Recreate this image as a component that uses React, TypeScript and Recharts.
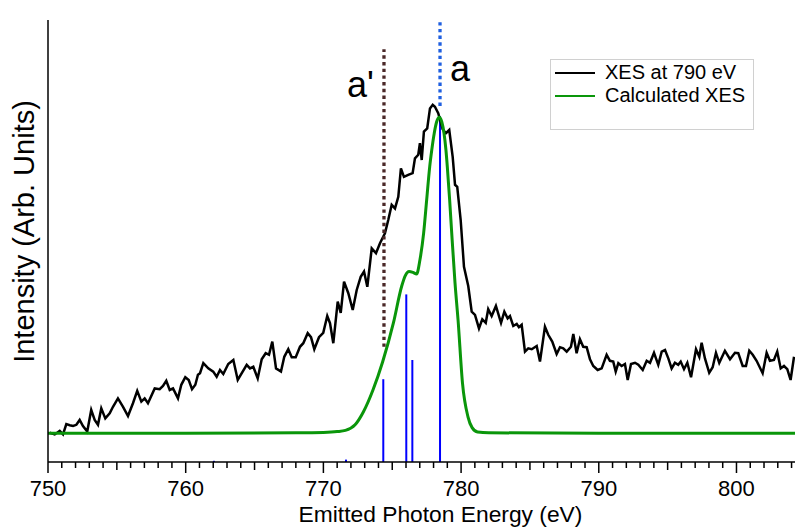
import React from "react";
import {
  ComposedChart,
  Line,
  XAxis,
  YAxis,
  ReferenceLine,
} from "recharts";

// measured XES at 790 eV excitation (energy in eV, intensity arb. units)
const xesEnergy = [
  750.12, 750.49, 750.85, 751.09, 751.33, 751.58, 751.82, 752.06, 752.3, 752.54,
  752.85, 753.14, 753.39, 753.63, 753.87, 754.16, 754.48, 754.72, 755.08, 755.45,
  755.81, 756.17, 756.48, 756.78, 757.02, 757.26, 757.75, 758.11, 758.35, 758.59,
  758.84, 759.08, 759.44, 759.68, 759.97, 760.22, 760.46, 760.7, 760.89, 761.04,
  761.28, 761.64, 762.0, 762.25, 762.49, 762.73, 763.09, 763.46, 763.78, 764.43,
  764.67, 764.91, 765.23, 765.52, 765.81, 766.05, 766.29, 766.56, 766.92, 767.16,
  767.45, 767.7, 767.99, 768.3, 768.54, 768.86, 769.1, 769.34, 769.68, 769.99,
  770.28, 770.48, 770.72, 771.04, 771.26, 771.5, 771.81, 772.13, 772.42, 772.71,
  772.95, 773.19, 773.51, 773.82, 774.11, 774.47, 774.71, 774.96, 775.2, 775.44,
  775.63, 775.85, 776.16, 776.48, 776.65, 776.89, 777.01, 777.14, 777.3, 777.54,
  777.74, 777.94, 778.1, 778.34, 778.66, 778.9, 779.14, 779.39, 779.56, 779.72,
  779.97, 780.21, 780.52, 780.77, 781.01, 781.3, 781.54, 781.79, 781.97, 782.22,
  782.53, 782.9, 783.14, 783.38, 783.55, 783.79, 784.04, 784.2, 784.4, 784.64,
  784.88, 785.13, 785.49, 785.73, 786.09, 786.33, 786.62, 786.94, 787.18, 787.42,
  787.67, 787.98, 788.15, 788.39, 788.63, 788.87, 789.12, 789.36, 789.6, 789.92,
  790.21, 790.57, 790.81, 791.05, 791.23, 791.42, 791.66, 791.9, 792.1, 792.34,
  792.63, 792.87, 793.19, 793.48, 793.72, 794.01, 794.32, 794.57, 794.81, 795.05,
  795.29, 795.53, 795.77, 795.95, 796.19, 796.43, 796.7, 797.06, 797.3, 797.47,
  797.71, 798.02, 798.27, 798.51, 798.75, 799.16, 799.53, 799.89, 800.13, 800.45,
  800.69, 800.93, 801.18, 801.46, 801.9, 802.19, 802.43, 802.72, 802.96, 803.21,
  803.45, 803.69, 803.93, 804.18,
];
const xesIntensity = [
  7.3, 6.9, 7.8, 6.9, 9.5, 9.2, 9.0, 9.3, 10.5, 9.0,
  7.6, 13.0, 10.5, 9.3, 13.4, 10.9, 12.2, 13.8, 15.9, 13.8,
  11.5, 14.7, 17.8, 15.1, 15.9, 14.7, 18.4, 18.2, 19.0, 20.3,
  18.0, 18.4, 15.9, 19.3, 21.2, 20.5, 18.2, 19.3, 21.8, 22.2,
  24.7, 23.4, 22.6, 21.3, 23.0, 22.0, 24.5, 25.5, 20.5, 24.3,
  23.4, 23.8, 20.9, 25.7, 27.2, 26.8, 30.1, 23.4, 22.6, 26.3,
  28.2, 26.2, 26.2, 28.8, 29.7, 32.2, 31.2, 28.2, 31.2, 32.3,
  36.5, 34.7, 29.7, 40.1, 37.3, 45.1, 42.2, 38.0, 43.0, 46.3,
  47.6, 43.8, 53.4, 52.2, 54.7, 57.2, 60.5, 64.3, 63.4, 66.3,
  73.4, 71.3, 71.8, 72.2, 75.9, 76.8, 79.7, 75.5, 82.6, 83.4,
  88.4, 89.3, 88.8, 87.2, 83.2, 82.2, 83.0, 76.3, 69.3, 68.8,
  60.5, 48.8, 44.0, 37.6, 36.8, 33.4, 35.7, 34.8, 38.2, 36.5,
  39.0, 34.8, 37.6, 35.9, 36.5, 34.0, 34.5, 33.7, 34.3, 27.6,
  28.4, 28.2, 29.0, 25.1, 33.8, 31.8, 30.1, 27.0, 28.7, 28.4,
  27.6, 28.8, 32.0, 27.2, 30.7, 28.8, 28.7, 25.7, 24.0, 23.0,
  23.4, 26.8, 25.3, 25.1, 22.6, 24.7, 24.0, 24.5, 20.5, 24.5,
  24.8, 24.3, 23.0, 25.3, 24.8, 27.3, 24.3, 27.6, 28.0, 25.9,
  23.4, 24.8, 24.3, 25.1, 23.2, 24.8, 21.2, 28.2, 26.3, 29.8,
  25.9, 22.3, 23.7, 27.3, 24.8, 27.8, 25.7, 27.3, 27.2, 24.0,
  24.0, 27.8, 26.8, 25.3, 22.2, 27.3, 25.3, 25.5, 27.6, 23.4,
  24.0, 23.2, 20.5, 26.3,
];

// calculated XES (broadened)
const calcEnergy = [
  750, 760, 768, 770, 771, 771.6, 772.3, 772.9, 773.6, 774.3,
  775.08, 775.69, 775.95, 776.22, 776.5, 776.77, 777.01, 777.28, 777.5, 777.72,
  777.87, 778.05, 778.22, 778.42, 778.6, 778.76, 778.9, 779.0, 779.17, 779.32,
  779.56, 779.78, 780.1, 780.5, 780.8, 781.2, 782, 790, 804.25,
];
const calcIntensity = [
  7.2, 7.2, 7.3, 7.4, 7.6, 7.9, 9.3, 12.5, 18.0, 25.0,
  34.7, 44.0, 46.6, 47.6, 47.4, 47.0, 50.5, 57.2, 65.5, 73.8,
  78.0, 82.2, 85.0, 86.2, 85.0, 82.2, 78.0, 73.8, 65.5, 57.2,
  44.7, 35.5, 19.8, 11.3, 8.6, 7.5, 7.3, 7.2, 7.2,
];

// calculated transition sticks
const stickEnergy = [762.05, 771.64, 774.35, 776.02, 776.46, 778.47];
const stickIntensity = [0.3, 0.6, 20.7, 41.9, 25.5, 86.5];

// peak markers
const markerName = ["a'", "a"];
const markerEnergy = [774.4, 778.47];
const markerFrom = [28.8, 89.0];
const markerTo = [103.2, 110.2];

const majorTicks = [750, 760, 770, 780, 790, 800];
const minorTicks = Array.from({ length: 55 }, (_, i) => 750 + i);

const FONT = "'Liberation Sans', Arial, sans-serif";

const xesData = xesEnergy.map((e, i) => ({ e, v: xesIntensity[i] }));
const calcData = calcEnergy.map((e, i) => ({ e, v: calcIntensity[i] }));
const stickData = stickEnergy.map((e, i) => [
  { e, v: 0 },
  { e, v: stickIntensity[i] },
]);

const EnergyTick = (props: any) => {
  const { x, y, payload } = props;
  const val = payload.value;
  const len = val % 10 === 0 ? 11 : val % 5 === 0 ? 8 : 6;
  return (
    <g>
      <line x1={x} x2={x} y1={y} y2={y + len} stroke="#000" strokeWidth={1.5} />
      {majorTicks.includes(val) && (
        <text x={x} y={y + 34} textAnchor="middle" fontSize={22} fontFamily={FONT} fill="#000">
          {val}
        </text>
      )}
    </g>
  );
};

const MarkerLabel = (props: any) => {
  const { viewBox, text, dx, dy } = props;
  if (!viewBox) return null;
  return (
    <text x={viewBox.x + dx} y={viewBox.y + dy} fontSize={36} fontFamily={FONT} fill="#000">
      {text}
    </text>
  );
};

const labelOffsets = [
  { dx: -37, dy: 48 },
  { dx: 10, dy: 60 },
];
const markerColors = ["#4a2828", "#1f5fe0"];

export default function App() {
  return (
    <div style={{ position: "absolute", left: 0, top: 0, width: 795, height: 528, background: "#fff" }}>
      <ComposedChart width={795} height={528} margin={{ top: 20, right: 0, left: 47, bottom: 26 }}>
        <XAxis
          dataKey="e"
          type="number"
          domain={[750, 804.25]}
          allowDataOverflow
          ticks={minorTicks}
          interval={0}
          tickSize={0}
          tickMargin={0}
          tickLine={false}
          tick={<EnergyTick />}
          axisLine={{ stroke: "#000", strokeWidth: 1.5 }}
          height={40}
        />
        <YAxis
          type="number"
          domain={[0, 110.5]}
          allowDataOverflow
          width={1}
          tick={false}
          tickLine={false}
          axisLine={{ stroke: "#000", strokeWidth: 1.5 }}
        />
        {stickData.map((d, i) => (
          <Line
            key={"s" + i}
            data={d}
            dataKey="v"
            type="linear"
            stroke="#0000ff"
            strokeWidth={2}
            dot={false}
            isAnimationActive={false}
          />
        ))}
        <Line
          data={xesData}
          dataKey="v"
          type="linear"
          stroke="#000"
          strokeWidth={2.5}
          dot={false}
          isAnimationActive={false}
        />
        <Line
          data={calcData}
          dataKey="v"
          type="monotone"
          stroke="#0a960a"
          strokeWidth={3}
          dot={false}
          isAnimationActive={false}
        />
        {markerEnergy.map((e, i) => (
          <ReferenceLine
            key={"m" + i}
            segment={[
              { x: e, y: markerFrom[i] },
              { x: e, y: markerTo[i] },
            ]}
            stroke={markerColors[i]}
            strokeWidth={3.3}
            strokeDasharray="3.4 3.3"
            label={<MarkerLabel text={markerName[i]} dx={labelOffsets[i].dx} dy={labelOffsets[i].dy} />}
          />
        ))}
      </ComposedChart>
      <div
        style={{
          position: "absolute",
          left: 0,
          top: 0,
          width: 48,
          height: 462,
          display: "flex",
          alignItems: "center",
          justifyContent: "center",
        }}
      >
        <div
          style={{
            transform: "rotate(-90deg)",
            whiteSpace: "nowrap",
            fontFamily: FONT,
            fontSize: 29,
          }}
        >
          Intensity (Arb. Units)
        </div>
      </div>
      <div
        style={{
          position: "absolute",
          left: 67,
          width: 747,
          top: 501,
          textAlign: "center",
          fontFamily: FONT,
          fontSize: 22.8,
        }}
      >
        Emitted Photon Energy (eV)
      </div>
      <div
        style={{
          position: "absolute",
          left: 550,
          top: 59,
          width: 204,
          height: 71,
          border: "1px solid #d0d0d0",
          boxSizing: "border-box",
          fontFamily: FONT,
          fontSize: 20,
        }}
      >
        {[
          { name: "XES at 790 eV", color: "#000" },
          { name: "Calculated XES", color: "#0a960a" },
        ].map((item, i) => (
          <div key={item.name} style={{ display: "flex", alignItems: "center", height: 23, marginTop: i === 0 ? 1 : 0 }}>
            <div style={{ width: 40, height: 2, background: item.color, marginLeft: 4, marginRight: 10 }} />
            <span>{item.name}</span>
          </div>
        ))}
      </div>
    </div>
  );
}
